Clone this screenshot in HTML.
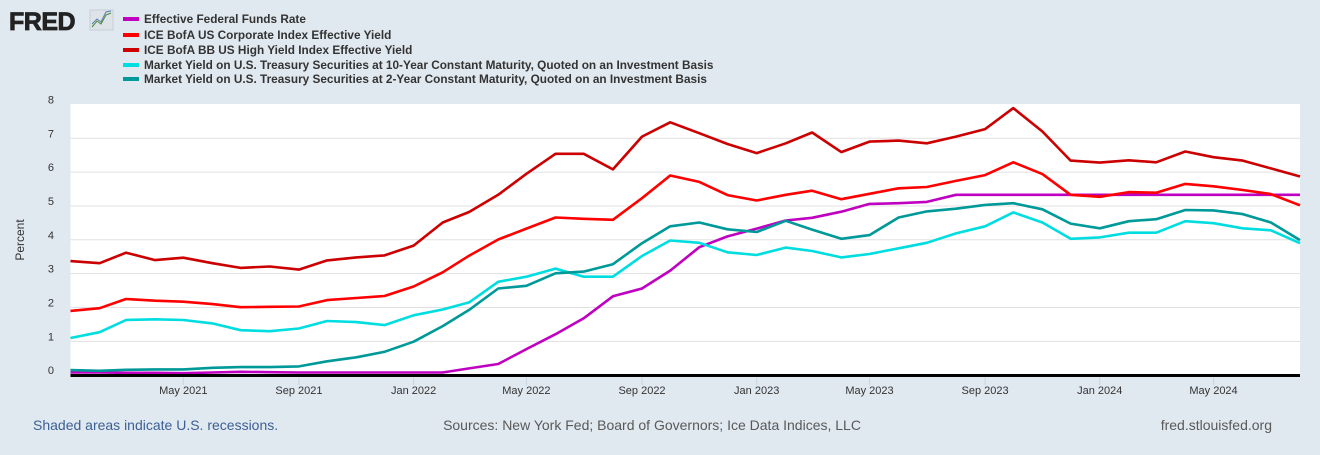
<!DOCTYPE html>
<html><head><meta charset="utf-8"><style>
body{margin:0;background:#e1e9f0;width:1320px;height:450px;overflow:hidden;font-family:"Liberation Sans",Arial,sans-serif;}
</style></head><body>
<svg width="1320" height="450" xmlns="http://www.w3.org/2000/svg" style="font-family:'Liberation Sans',Arial,sans-serif">
<g>
<text x="9" y="30" font-size="25" font-weight="bold" fill="#222" stroke="#222" stroke-width="0.8" letter-spacing="-0.5">FRED</text>
<rect x="90" y="10" width="23" height="20" fill="#dde3e8" stroke="#c8cfd6"/>
<polyline points="92,27 97,21 101,24 106,15 111,13" fill="none" stroke="#4a8a3a" stroke-width="1"/>
<polyline points="92,24 97,19 101,22 106,12 111,11" fill="none" stroke="#5a7fb0" stroke-width="1"/>
</g>
<g id="legend" font-size="11.8" font-weight="bold" fill="#333"></g>
<rect x="70.5" y="104" width="1229.5" height="271" fill="#fff"/>
<g id="grid"></g>
<g id="series"></g>
<line x1="70.5" x2="1300" y1="375.5" y2="375.5" stroke="#000" stroke-width="3"/>
<g id="xt" font-size="11" fill="#333" text-anchor="middle"></g>
<text transform="translate(24,240) rotate(-90)" font-size="12" fill="#333" text-anchor="middle">Percent</text>
<text x="33" y="430" font-size="14" fill="#3b5f95">Shaded areas indicate U.S. recessions.</text>
<text x="652" y="430" font-size="14" fill="#595959" text-anchor="middle">Sources: New York Fed; Board of Governors; Ice Data Indices, LLC</text>
<text x="1272" y="430" font-size="14" fill="#595959" text-anchor="end">fred.stlouisfed.org</text>
</svg>
<script>
const yTicks=[0,1,2,3,4,5,6,7,8];
const xTickLabels=["May 2021","Sep 2021","Jan 2022","May 2022","Sep 2022","Jan 2023","May 2023","Sep 2023","Jan 2024","May 2024"];
const xTickDates=["2021-05-01","2021-09-01","2022-01-01","2022-05-01","2022-09-01","2023-01-01","2023-05-01","2023-09-01","2024-01-01","2024-05-01"];
const seriesNames=["Effective Federal Funds Rate","ICE BofA US Corporate Index Effective Yield","ICE BofA BB US High Yield Index Effective Yield","Market Yield on U.S. Treasury Securities at 10-Year Constant Maturity, Quoted on an Investment Basis","Market Yield on U.S. Treasury Securities at 2-Year Constant Maturity, Quoted on an Investment Basis"];
const seriesColors=["#c000c0","#ff0000","#cc0000","#00dde0","#009999"];
const fedFunds=[0.08,0.08,0.07,0.07,0.06,0.08,0.10,0.09,0.08,0.08,0.08,0.08,0.08,0.08,0.20,0.33,0.77,1.21,1.68,2.33,2.56,3.09,3.78,4.10,4.33,4.57,4.65,4.83,5.06,5.08,5.12,5.33,5.33,5.33,5.33,5.33,5.33,5.33,5.33,5.33,5.33,5.33,5.33,5.33];
const corpYield=[1.90,1.98,2.25,2.20,2.17,2.10,2.01,2.02,2.03,2.22,2.28,2.34,2.62,3.04,3.53,4.01,4.33,4.66,4.62,4.59,5.23,5.90,5.71,5.32,5.16,5.33,5.45,5.20,5.36,5.52,5.56,5.74,5.91,6.29,5.94,5.33,5.27,5.41,5.39,5.65,5.58,5.47,5.35,5.02];
const hyYield=[3.37,3.31,3.62,3.40,3.47,3.31,3.17,3.21,3.12,3.39,3.48,3.54,3.83,4.51,4.82,5.33,5.95,6.54,6.54,6.08,7.05,7.47,7.15,6.83,6.56,6.85,7.17,6.59,6.90,6.93,6.85,7.05,7.27,7.89,7.20,6.34,6.28,6.35,6.29,6.61,6.44,6.34,6.11,5.87];
const t10=[1.10,1.27,1.63,1.65,1.63,1.53,1.33,1.30,1.38,1.60,1.57,1.48,1.77,1.94,2.15,2.76,2.91,3.15,2.91,2.91,3.52,3.98,3.91,3.63,3.55,3.77,3.67,3.48,3.58,3.75,3.91,4.19,4.40,4.81,4.51,4.03,4.07,4.21,4.21,4.55,4.49,4.34,4.28,3.90];
const t2=[0.15,0.13,0.16,0.17,0.17,0.22,0.24,0.24,0.26,0.41,0.53,0.69,0.99,1.45,1.93,2.56,2.64,3.01,3.06,3.28,3.90,4.40,4.51,4.31,4.23,4.56,4.30,4.03,4.14,4.66,4.84,4.92,5.03,5.08,4.90,4.48,4.34,4.55,4.61,4.88,4.87,4.76,4.51,3.99];
const allSeries=[fedFunds,corpYield,hyYield,t10,t2];
const NS="http://www.w3.org/2000/svg";
const t0=Date.UTC(2021,0,1),t1=Date.UTC(2024,7,1);
function xDate(ms){return 70.5+(ms-t0)/(t1-t0)*(1300-70.5);}
function xIdx(i){return xDate(Date.UTC(2021,i,1));}
function y(v){return 375.2-(v/8)*(375.2-104.4);}
function mk(tag,attrs,parent){const e=document.createElementNS(NS,tag);for(const k in attrs)e.setAttribute(k,attrs[k]);parent.appendChild(e);return e;}
const grid=document.getElementById('grid');
yTicks.forEach(v=>{
  if(v>0&&v<8){const l=mk('line',{x1:70.5,x2:1300,y1:y(v),y2:y(v),stroke:'#e1e1e1','stroke-width':1},grid);
  
  }
  const t=mk('text',{x:54,y:y(v)-1,'font-size':11,fill:'#333','text-anchor':'end'},grid);
  t.textContent=v;
  
  
});
const xt=document.getElementById('xt');
xTickLabels.forEach((lab,i)=>{
  const p=xTickDates[i].split('-');const x=xDate(Date.UTC(+p[0],+p[1]-1,1));
  const l=mk('line',{x1:x,x2:x,y1:377,y2:385,stroke:'#c8d4e0'},xt);
  
  
  const t=mk('text',{x:x,y:394},xt);t.textContent=lab;
  
  
});
const sg=document.getElementById('series');
allSeries.forEach((s,k)=>{
  const pts=s.map((v,i)=>xIdx(i).toFixed(1)+','+y(v).toFixed(1)).join(' ');
  const pl=mk('polyline',{points:pts,fill:'none',stroke:seriesColors[k],'stroke-width':2.6,'stroke-linejoin':'round'},sg);
  
  
});
const lg=document.getElementById('legend');
const rowY=[19,35,50,65,79];
seriesNames.forEach((n,k)=>{
  const r=mk('rect',{x:123,y:rowY[k]-2,width:16,height:4,fill:seriesColors[k]},lg);
  
  
  const t=mk('text',{x:144,y:rowY[k]+4},lg);t.textContent=n;
  
  
});
</script>
</body></html>
